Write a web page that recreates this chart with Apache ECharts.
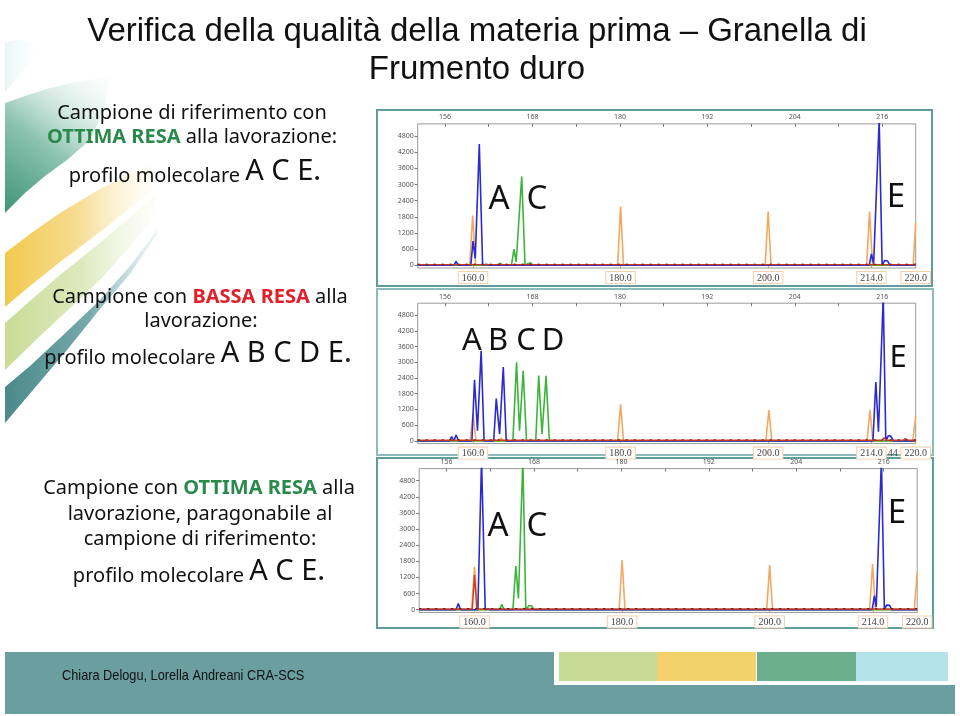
<!DOCTYPE html>
<html><head><meta charset="utf-8">
<script src="https://cdn.jsdelivr.net/npm/echarts@6/dist/echarts.min.js"></script>
<style>html,body{margin:0;padding:0;background:#fff}#c{width:960px;height:716px}</style>
</head><body><div id="c"></div>
<script>
// ---------- data ----------
const topTickLabels = [156, 168, 180, 192, 204, 216];
const topMinorTicks = [156, 162, 168, 174, 180, 186, 192, 198, 204, 210, 216];
const yTickLabels = [0, 600, 1200, 1800, 2400, 3000, 3600, 4200, 4800];
const sizeLabelsP1 = [160, 180, 200, 214, 220];
const sizeLabelsP2 = [160, 180, 200, 214, 216.9, 220];
const sizeLabelsP3 = [160, 180, 200, 214, 220];

// panel 1: reference sample (A C E)
const p1Blue = [[152.5,0],[157.4,0],[157.7,150],[158.0,0],[159.7,0],[160.0,900],[160.3,250],[160.85,4500],[161.3,0],[161.8,40],[162.1,0],[213.7,0],[214.0,420],[214.3,60],[215.05,5400],[215.45,0],[215.8,180],[216.2,160],[216.5,0],[220,0]];
const p1Green = [[152.5,0],[163.4,0],[163.7,80],[164.0,0],[165.2,0],[165.55,600],[165.85,130],[166.6,3300],[167.05,0],[167.4,60],[167.8,80],[168.1,0],[220,0]];
const p1Orange = [[152.5,0],[159.55,0],[159.95,1850],[160.35,0],[163.5,0],[163.75,70],[164.0,0],[167.4,0],[167.75,100],[168.1,0],[179.6,0],[180.0,2180],[180.4,0],[199.6,0],[200.0,2000],[200.4,0],[213.35,0],[213.75,2000],[214.15,0],[219.65,0],[220,1600]];
const p1Red = [[152.5,25],[220,25]];

// panel 2: low-yield sample (A B C D E)
const p2Blue = [[152.5,0],[156.8,0],[157.1,170],[157.4,0],[157.7,230],[158.05,0],[159.85,0],[160.2,2330],[160.6,390],[161.1,3440],[161.5,0],[162.8,0],[163.15,1620],[163.6,270],[164.1,2820],[164.5,0],[214.2,0],[214.6,2250],[214.95,350],[215.6,5500],[215.95,0],[216.3,200],[216.6,190],[217.0,0],[220,0]];
const p2Green = [[152.5,0],[165.4,0],[165.9,3000],[166.3,390],[166.8,2670],[167.25,0],[168.5,0],[168.9,2490],[169.35,270],[169.9,2480],[170.35,0],[220,0]];
const p2Orange = [[152.5,0],[159.6,0],[160.0,1050],[160.4,0],[162.6,0],[162.85,80],[163.1,0],[163.55,0],[163.8,120],[164.05,0],[179.6,0],[180.0,1400],[180.4,0],[199.7,0],[200.1,1180],[200.5,0],[213.4,0],[213.8,1180],[214.2,0],[219.6,0],[220,950]];
const p2Red = [[152.5,25],[215.4,25],[215.7,130],[216.0,25],[218.3,25],[218.6,90],[218.9,25],[220,25]];

// panel 3: good-yield sample (A C E)
const p3Blue = [[152.5,0],[157.5,0],[157.8,235],[158.1,0],[160.45,0],[160.95,5600],[161.45,0],[161.8,40],[162.1,0],[213.9,0],[214.2,520],[214.45,100],[215.15,5600],[215.55,0],[215.85,170],[216.25,160],[216.55,0],[220,0]];
const p3Green = [[152.5,0],[163.4,0],[163.7,200],[164.0,0],[165.2,0],[165.6,1620],[165.95,420],[166.55,5600],[166.95,0],[167.35,150],[167.7,150],[168.1,0],[220,0]];
const p3Orange = [[152.5,0],[159.6,0],[160.0,1600],[160.4,0],[179.6,0],[180.0,1850],[180.4,0],[199.6,0],[200.0,1660],[200.4,0],[213.55,0],[213.95,1700],[214.35,0],[219.6,0],[220,1390]];
const p3Red = [[152.5,25],[159.7,25],[160.0,1290],[160.3,25],[220,25]];

const noiseLine = [[152.5,45],[220,45]];

// ---------- styling / layout ----------
const C = {blue:'#2a2ad0', green:'#3cb43c', orange:'#f3a862', red:'#cf3a1e', teal:'#5e9d9b'};
const SANS = "'Noto Sans', 'DejaVu Sans', sans-serif";
const ARIAL = "'Liberation Sans', Arial, sans-serif";

const grids = [
  {left: 417.7, top: 123.9, width: 498, height: 144.1},
  {left: 417.7, top: 303.2, width: 498, height: 140.4},
  {left: 419.2, top: 468.6, width: 498, height: 143.8}
];
const sizeSets = [sizeLabelsP1, sizeLabelsP2, sizeLabelsP3];
const panelSeries = [
  [p1Orange, p1Green, p1Blue, p1Red],
  [p2Orange, p2Green, p2Blue, p2Red],
  [p3Orange, p3Green, p3Blue, p3Red]
];

const xAxis = [], yAxis = [], series = [];
grids.forEach((g, i) => {
  xAxis.push({
    gridIndex: i, type: 'value', position: 'bottom', min: 152.5, max: 220,
    axisLine: {show: false}, splitLine: {show: false},
    axisTick: {show: true, customValues: sizeSets[i].filter(v => v !== 216.9), length: 3, lineStyle: {color: '#e8a060'}},
    axisLabel: {
      customValues: sizeSets[i], margin: 4,
      formatter: v => (v === 216.9 ? '{p|44}' : '{box|' + v.toFixed(1) + '}'),
      rich: {
        box: {fontFamily: "'Liberation Serif', serif", fontSize: 10, color: '#444',
              borderColor: '#f2cfae', borderWidth: 1, padding: [1, 3, 0, 3], backgroundColor: '#fff'},
        p: {fontFamily: "'Liberation Serif', serif", fontSize: 10, color: '#444', padding: [1, 0, 0, 0]}
      }
    }
  });
  xAxis.push({
    gridIndex: i, type: 'value', position: 'top', min: 152.25, max: 220.6,
    axisLine: {show: false}, splitLine: {show: false},
    axisTick: {show: true, inside: true, customValues: topMinorTicks, length: 3, lineStyle: {color: '#777'}},
    axisLabel: {customValues: topTickLabels, margin: 3, fontFamily: SANS, fontSize: 7, color: '#555'}
  });
  yAxis.push({
    gridIndex: i, type: 'value', min: -100, max: 5250,
    axisLine: {show: false}, splitLine: {show: false},
    axisTick: {show: true, customValues: yTickLabels, length: 3, lineStyle: {color: '#777'}},
    axisLabel: {customValues: yTickLabels, margin: 4, formatter: v => String(v), fontFamily: SANS, fontSize: 7, color: '#555'}
  });
  const cols = [C.orange, C.green, C.blue, C.red];
  panelSeries[i].forEach((d, k) => {
    series.push({
      type: 'line', xAxisIndex: 2 * i, yAxisIndex: i, data: d, showSymbol: false, silent: true,
      clip: true, lineStyle: {color: cols[k], width: k === 3 ? 1.4 : 1.6}, z: 3 + k
    });
  });
  series.push({
    type: 'line', xAxisIndex: 2 * i, yAxisIndex: i, data: noiseLine, showSymbol: false, silent: true,
    lineStyle: {color: '#4a2020', width: 1, type: [2, 6]}, z: 8
  });
});

const richBase = {
  n: {fontFamily: SANS, fontSize: 20, fill: '#111', verticalAlign: 'bottom'},
  b: {fontFamily: SANS, fontSize: 29, fill: '#111', verticalAlign: 'bottom'},
  g: {fontFamily: SANS, fontSize: 20, fontWeight: 'bold', fill: '#2a8a4c', verticalAlign: 'bottom'},
  r: {fontFamily: SANS, fontSize: 20, fontWeight: 'bold', fill: '#e0202a', verticalAlign: 'bottom'}
};
function txt(x, y, text) {
  return {type: 'text', x: x, y: y, z: 20,
    style: {text: text, rich: richBase, align: 'center', verticalAlign: 'middle', fontFamily: SANS, fontSize: 20, fill: '#111'}};
}
function letter(x, y, s, size) {
  return {type: 'text', x: x, y: y, z: 20,
    style: {text: s, align: 'center', verticalAlign: 'middle', fontFamily: SANS, fontSize: size || 33, fill: '#111'}};
}
function band(points, grad, stops) {
  return {type: 'polygon', z: -10, shape: {points: points},
    style: {fill: new echarts.graphic.LinearGradient(grad[0], grad[1], grad[2], grad[3], stops)}};
}

const graphic = [
  // decorative swooshes
  band([[5,42],[22,40],[45,46],[25,70],[5,92]], [0,0,1,0], [{offset:0,color:'rgba(210,235,235,0.5)'},{offset:1,color:'rgba(255,255,255,0)'}]),
  band([[5,103],[25,96],[50,88],[80,81],[110,77],[104,110],[90,140],[67,160],[45,176],[25,193],[5,213]], [0,1,1,0],
       [{offset:0,color:'#3e9479'},{offset:0.45,color:'#8cc3b0'},{offset:1,color:'rgba(235,246,242,0.1)'}]),
  band([[5,253],[30,234],[60,213],[100,189],[130,174],[155,163],[150,193],[125,212],[100,232],[60,262],[30,286],[5,307]], [0,0,1,0],
       [{offset:0,color:'#f2c94e'},{offset:0.5,color:'#f7dd95'},{offset:1,color:'rgba(252,244,215,0.1)'}]),
  band([[5,323],[30,301],[60,275],[100,243],[130,217],[158,193],[150,223],[125,252],[100,280],[70,308],[40,336],[5,370]], [0,0,1,0],
       [{offset:0,color:'#c9dc96'},{offset:0.5,color:'#dde9bd'},{offset:1,color:'rgba(240,246,225,0.1)'}]),
  band([[5,387],[30,366],[60,338],[100,300],[130,266],[158,229],[157,234],[130,274],[100,309],[67,350],[33,390],[5,423]], [0,0,1,0],
       [{offset:0,color:'#4b8a8a'},{offset:0.55,color:'#76a9aa'},{offset:1,color:'rgba(200,225,226,0.3)'}]),
  // panel frames
  {type: 'rect', z: -5, shape: {x: 377, y: 110, width: 555, height: 176}, style: {fill: '#fff', stroke: C.teal, lineWidth: 2}},
  {type: 'rect', z: -5, shape: {x: 377, y: 289, width: 556, height: 166}, style: {fill: '#fff', stroke: '#8dbdbb', lineWidth: 2}},
  {type: 'rect', z: -5, shape: {x: 377, y: 458, width: 556, height: 170}, style: {fill: '#fff', stroke: C.teal, lineWidth: 2}},
  // title
  {type: 'text', x: 477, y: 32, z: 20, style: {text: 'Verifica della qualità della materia prima – Granella di', align: 'center', verticalAlign: 'middle', fontFamily: ARIAL, fontSize: 33, fill: '#111'}},
  {type: 'text', x: 477, y: 70, z: 20, style: {text: 'Frumento duro', align: 'center', verticalAlign: 'middle', fontFamily: ARIAL, fontSize: 33, fill: '#111'}},
  // left texts, panel 1
  txt(192, 113, '{n|Campione di riferimento con}'),
  txt(192, 137, '{g|OTTIMA RESA}{n| alla lavorazione:}'),
  txt(195, 172, '{n|profilo molecolare }{b|A C E.}'),
  // panel 2
  txt(200, 297, '{n|Campione con }{r|BASSA RESA}{n| alla}'),
  txt(201, 321, '{n|lavorazione:}'),
  txt(198, 354, '{n|profilo molecolare }{b|A B C D E.}'),
  // panel 3
  txt(199, 488, '{n|Campione con }{g|OTTIMA RESA}{n| alla}'),
  txt(200, 514, '{n|lavorazione, paragonabile al}'),
  txt(200, 539, '{n|campione di riferimento:}'),
  txt(199, 572, '{n|profilo molecolare }{b|A C E.}'),
  // allele letters in plots
  letter(499, 200, 'A'), letter(537, 200, 'C'), letter(896, 198, 'E'),
  letter(472, 341, 'A', 31), letter(498, 341, 'B', 31), letter(526, 341, 'C', 31), letter(553, 341, 'D', 31), letter(898, 358, 'E', 31),
  letter(498, 527, 'A'), letter(537, 527, 'C'), letter(897, 514, 'E'),
  // footer
  {type: 'rect', z: -5, shape: {x: 5, y: 652, width: 950, height: 62}, style: {fill: '#6a9e9f'}},
  {type: 'rect', z: -4, shape: {x: 554, y: 652, width: 401, height: 33}, style: {fill: '#ffffff'}},
  {type: 'rect', z: -3, shape: {x: 559, y: 652, width: 98, height: 29}, style: {fill: '#c6da95'}},
  {type: 'rect', z: -3, shape: {x: 657, y: 652, width: 99, height: 29}, style: {fill: '#f2d06a'}},
  {type: 'rect', z: -3, shape: {x: 757, y: 652, width: 99, height: 29}, style: {fill: '#6aae8b'}},
  {type: 'rect', z: -3, shape: {x: 856, y: 652, width: 92, height: 29}, style: {fill: '#b3e3e9'}},
  {type: 'text', x: 62, y: 676, z: 20, scaleX: 0.85, style: {text: 'Chiara Delogu, Lorella Andreani CRA-SCS', align: 'left', verticalAlign: 'middle', fontFamily: ARIAL, fontSize: 15, fill: '#111'}}
];

const chart = echarts.init(document.getElementById('c'), null, {renderer: 'canvas'});
chart.setOption({
  animation: false,
  backgroundColor: '#fff',
  grid: grids.map(g => Object.assign({show: true, borderColor: '#9a9a9a', borderWidth: 1, backgroundColor: 'transparent', containLabel: false}, g)),
  xAxis: xAxis, yAxis: yAxis, series: series, graphic: graphic
});
</script></body></html>
